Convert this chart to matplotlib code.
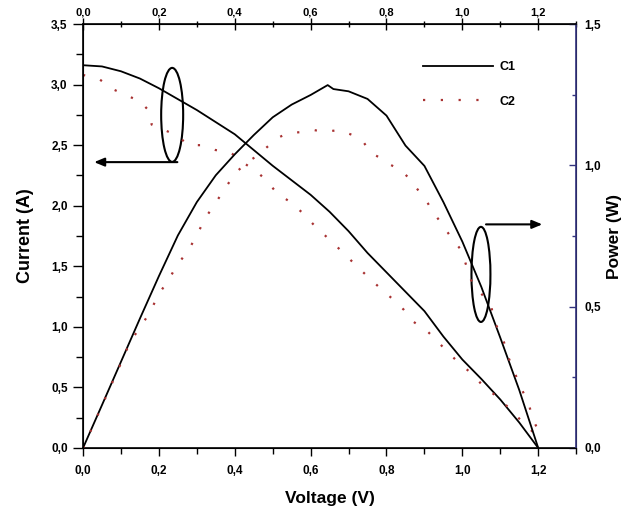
import numpy as np
import matplotlib
matplotlib.use("Agg")
import matplotlib.pyplot as plt
from matplotlib.patches import Ellipse
from matplotlib.ticker import MultipleLocator, FuncFormatter

plt.rcParams['font.family'] = ['Liberation Sans', 'DejaVu Sans']
plt.rcParams['font.weight'] = 'bold'

# C1 : current and power (solid black)
v_c1 = [0, 0.05, 0.1, 0.15, 0.2, 0.25, 0.3, 0.35, 0.4, 0.45, 0.5, 0.55, 0.6,
        0.65, 0.7, 0.75, 0.8, 0.85, 0.9, 0.95, 1.0, 1.05, 1.1, 1.15, 1.2]
i_c1 = [3.16, 3.15, 3.11, 3.05, 2.97, 2.88, 2.79, 2.69, 2.59, 2.46, 2.33, 2.21, 2.09,
        1.95, 1.79, 1.61, 1.45, 1.29, 1.13, 0.92, 0.73, 0.57, 0.40, 0.21, 0.0]
v_c1p = [0, 0.05, 0.1, 0.15, 0.2, 0.25, 0.3, 0.35, 0.4, 0.45, 0.5, 0.55, 0.6,
         0.645, 0.66, 0.7, 0.75, 0.8, 0.85, 0.9, 0.95, 1.0, 1.05, 1.1, 1.15, 1.2]
p_c1 = [0, 0.152, 0.305, 0.458, 0.608, 0.752, 0.87, 0.965, 1.039, 1.107, 1.17, 1.215, 1.249,
        1.284, 1.27, 1.262, 1.235, 1.176, 1.07, 0.998, 0.87, 0.73, 0.57, 0.39, 0.205, 0.0]

# C2 : current and power (red dotted)
v_c2i = [0, 0.045, 0.08, 0.116, 0.151, 0.172, 0.181, 0.248, 0.278, 0.314, 0.349, 0.389,
         0.42, 0.459, 0.486, 0.512, 0.547, 0.579, 0.609, 0.67, 0.732, 0.759, 0.79, 0.82,
         0.846, 0.872, 0.909, 0.936, 0.965, 0.997, 1.031, 1.057, 1.094, 1.129, 1.16, 1.19, 1.2]
i_c2 = [3.08, 3.04, 2.96, 2.91, 2.86, 2.79, 2.67, 2.58, 2.50, 2.50, 2.46, 2.44,
        2.36, 2.28, 2.20, 2.10, 2.03, 1.94, 1.84, 1.66, 1.47, 1.39, 1.30, 1.22,
        1.14, 1.04, 0.96, 0.875, 0.78, 0.685, 0.60, 0.50, 0.42, 0.31, 0.21, 0.12, 0.05]

v_c2p = [0, 0.05, 0.1, 0.124, 0.151, 0.177, 0.198, 0.225, 0.248, 0.278, 0.30, 0.322,
         0.349, 0.375, 0.402, 0.433, 0.455, 0.476, 0.512, 0.539, 0.579, 0.609, 0.635,
         0.674, 0.711, 0.741, 0.759, 0.785, 0.812, 0.838, 0.859, 0.883, 0.904, 0.923,
         0.944, 0.97, 0.997, 1.023, 1.057, 1.076, 1.089, 1.108, 1.121, 1.137, 1.155,
         1.174, 1.187, 1.203]
p_c2 = [0, 0.15, 0.30, 0.375, 0.428, 0.481, 0.541, 0.594, 0.647, 0.70, 0.753, 0.813,
        0.866, 0.92, 0.973, 1.012, 1.03, 1.054, 1.096, 1.114, 1.118, 1.125, 1.118,
        1.125, 1.107, 1.079, 1.043, 1.026, 1.001, 0.983, 0.955, 0.913, 0.877, 0.835,
        0.796, 0.746, 0.70, 0.594, 0.534, 0.499, 0.435, 0.382, 0.322, 0.269, 0.212,
        0.159, 0.099, 0.053]

red = '#a83232'
navy = '#33337f'
dots = (0, (1, 7))

fig = plt.figure(figsize=(6.29, 5.17), dpi=100)
ax = fig.add_axes([0.132, 0.1335, 0.784, 0.82])
ax2 = ax.twinx()

ax.plot(v_c1, i_c1, color='black', lw=1.3, label='C1')
ax.plot(v_c2i, i_c2, color=red, lw=1.6, linestyle=dots, label='C2')
ax2.plot(v_c1p, p_c1, color='black', lw=1.3)
ax2.plot(v_c2p, p_c2, color=red, lw=1.6, linestyle=dots)

ax.set_xlim(0, 1.3)
ax.set_ylim(0, 3.5)
ax2.set_ylim(0, 1.5)

comma = FuncFormatter(lambda x, pos: f"{x:.1f}".replace('.', ','))
ax.xaxis.set_major_locator(MultipleLocator(0.2))
ax.xaxis.set_minor_locator(MultipleLocator(0.1))
ax.yaxis.set_major_locator(MultipleLocator(0.5))
ax.yaxis.set_minor_locator(MultipleLocator(0.25))
ax2.yaxis.set_major_locator(MultipleLocator(0.5))
ax2.yaxis.set_minor_locator(MultipleLocator(0.25))
ax.xaxis.set_major_formatter(comma)
ax.yaxis.set_major_formatter(comma)
ax2.yaxis.set_major_formatter(comma)

# top axis on the twin (shared x), ticks crossing the spine
ax2.xaxis.set_visible(True)
ax2.tick_params(axis='x', which='both', top=True, labeltop=True,
                bottom=False, labelbottom=False, direction='inout')
ax2.tick_params(axis='x', which='major', length=8, width=1, labelsize=8, pad=1)
ax2.tick_params(axis='x', which='minor', length=5, width=1)
ax2.spines['top'].set_linewidth(1.2)

ax.tick_params(axis='x', which='both', top=False)
ax.tick_params(axis='x', which='major', length=6, width=1, labelsize=8.5, pad=6)
ax.tick_params(axis='x', which='minor', length=4, width=1)
ax.tick_params(axis='y', which='major', length=7, width=1, labelsize=8.5, pad=4)
ax.tick_params(axis='y', which='minor', length=5, width=1)
ax2.tick_params(axis='y', which='major', direction='in', length=5, width=1,
                color=navy, labelsize=8.5, pad=6)
ax2.tick_params(axis='y', which='minor', direction='in', length=3, width=1, color=navy)
ax2.spines['right'].set_color(navy)
for s in ['left', 'bottom']:
    ax.spines[s].set_linewidth(1.2)
ax2.spines['right'].set_linewidth(1.2)

ax.set_xlabel('Voltage (V)', fontsize=12.5, fontweight='bold', labelpad=10)
ax.set_ylabel('Current (A)', fontsize=13, fontweight='bold', labelpad=12)
ax2.set_ylabel('Power (W)', fontsize=12.5, fontweight='bold', rotation=90, labelpad=4)

# annotation ellipses and arrows
ax.add_patch(Ellipse((0.235, 2.75), 0.058, 0.776, fill=False, lw=1.5, ec='black'))
ax.annotate('', xy=(0.022, 2.36), xytext=(0.256, 2.36),
            arrowprops=dict(arrowstyle='-|>,head_length=0.6,head_width=0.25',
                            lw=1.5, color='black'))
ax.add_patch(Ellipse((1.049, 1.433), 0.05, 0.785, fill=False, lw=1.5, ec='black'))
ax.annotate('', xy=(1.218, 1.846), xytext=(1.055, 1.846),
            arrowprops=dict(arrowstyle='-|>,head_length=0.6,head_width=0.25',
                            lw=1.5, color='black'))

ax.legend(loc='upper left', bbox_to_anchor=(0.69, 0.912), frameon=False,
          handlelength=5.6, handletextpad=0.5, labelspacing=1.8,
          borderpad=0, borderaxespad=0, prop={'size': 9, 'weight': 'bold'})

fig.savefig('out.png', dpi=100)
